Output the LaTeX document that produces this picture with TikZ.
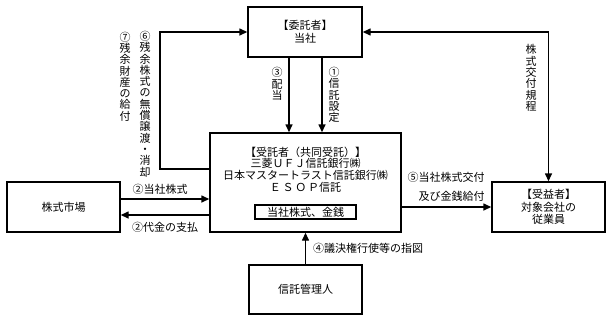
\documentclass[tikz,border=0pt]{standalone}
\usepackage{fontspec}
\setmainfont{Noto Sans CJK JP}
\usetikzlibrary{arrows.meta}
\tikzset{
  box/.style={draw, line width=1.4pt, inner sep=0pt},
  arr/.style={line width=1.4pt, -{Triangle[length=8pt,width=7pt]}},
  arrtwo/.style={line width=1.4pt, {Triangle[length=8pt,width=7pt]}-{Triangle[length=8pt,width=7pt]}},
  lbl/.style={inner sep=0pt, font=\fontsize{11}{11.5}\selectfont},
  vlbl/.style={inner sep=0pt, align=center, font=\fontsize{11}{11.3}\selectfont},
  btxt/.style={inner sep=0pt, align=center, font=\fontsize{11}{12.5}\selectfont},
}
\begin{document}
\begin{tikzpicture}[x=1pt,y=-1pt]
\useasboundingbox (0,0) rectangle (612,322);
% boxes
\node[box, minimum width=114pt, minimum height=50pt, btxt] (itaku) at (305,32) {【委託者】\\当社};
\node[box, minimum width=191pt, minimum height=99pt] (jutaku) at (305.5,182.5) {};
\node[btxt, font=\fontsize{11}{11.7}\selectfont] (jtext) at (305.5,169.5) {【受託者（共同受託）】\\三菱ＵＦＪ信託銀行㈱\\日本マスタートラスト信託銀行㈱\\Ｅ\,Ｓ\,Ｏ\,Ｐ信託};
\node[box, line width=1.3pt, minimum width=101pt, minimum height=14pt, btxt] (inner) at (305.5,212) {当社株式、金銭};
\node[box, minimum width=113pt, minimum height=50pt, btxt] (market) at (63.5,207) {株式市場};
\node[box, minimum width=113pt, minimum height=49pt, btxt] (kanri) at (305.5,289.5) {信託管理人};
\node[box, minimum width=113pt, minimum height=50pt, btxt] (jueki) at (548.5,207) {【受益者】\\対象会社の\\従業員};
% helper coordinates
\coordinate (c6) at (160,32);
\coordinate (c7) at (548.5,32);
% connectors
\draw[arr] ([xshift=-16pt]itaku.south) -- ([xshift=-16pt]itaku.south |- jutaku.north);
\draw[arr] ([xshift=17pt]itaku.south) -- ([xshift=17pt]itaku.south |- jutaku.north);
\draw[arr] ([yshift=13.5pt]jutaku.west) -| (c6) -- (itaku.west);
\draw[arrtwo] (itaku.east) -- (c7) -- (jueki.north);
\draw[arr] ([yshift=8pt]market.east) -- ([yshift=8pt]market.east -| jutaku.west);
\draw[arr] ([yshift=-8pt]market.east -| jutaku.west) -- ([yshift=-8pt]market.east);
\draw[arr] (jueki.west -| jutaku.east) -- (jueki.west);
\draw[arr] (kanri.north) -- (kanri.north |- jutaku.south);
% labels
\node[vlbl] (l3) at (277,84) {③\\配\\当};
\node[vlbl] (l1) at (334,95) {①\\信\\託\\設\\定};
\node[vlbl] (lk) at (531,78) {株\\式\\交\\付\\規\\程};
\node[vlbl] (l7) at (125,76.5) {⑦\\残\\余\\財\\産\\の\\給\\付};
\node[vlbl] (l6) at (145,104) {⑥\\残\\余\\株\\式\\の\\無\\償\\譲\\渡\\・\\消\\却};
\node[lbl] (l2a) at (160,189) {②当社株式};
\node[lbl] (l2b) at (165,227) {②代金の支払};
\node[lbl] (l5a) at (446,177) {⑤当社株式交付};
\node[lbl] (l5b) at (451.5,196) {及び金銭給付};
\node[lbl] (l4) at (368,248) {④議決権行使等の指図};
\end{tikzpicture}
\end{document}
